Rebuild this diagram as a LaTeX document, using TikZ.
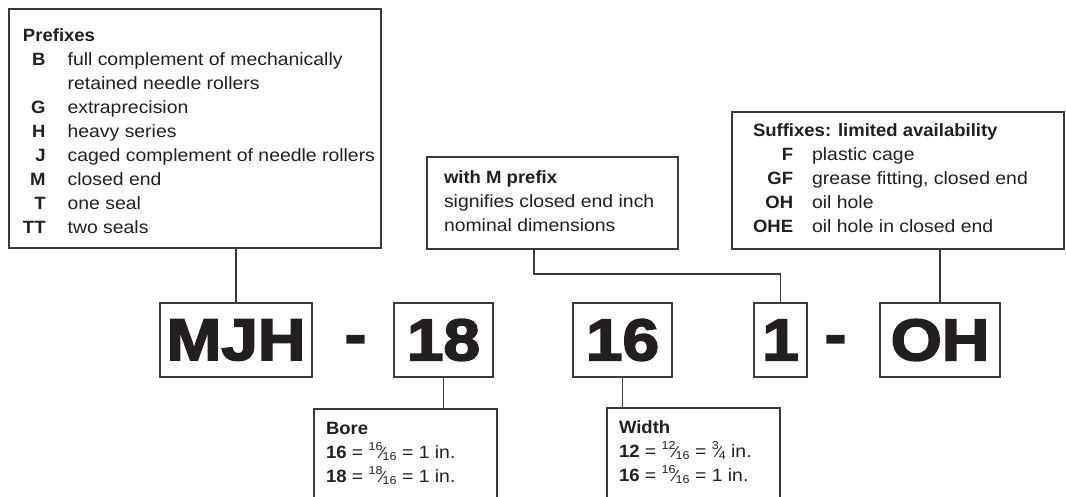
\documentclass[tikz,border=0pt]{standalone}
\usepackage{fontspec}
\setmainfont{Liberation Sans}[FakeStretch=1.09]
\newfontfamily\bfam{Liberation Sans Bold}[FakeStretch=1.04]
\newfontfamily\bigf{Liberation Sans Bold}[FakeStretch=1.12,FakeBold=3]
\newcommand\B[1]{{\bfam #1}}
\newcommand\fr[2]{\raisebox{0.42em}{\fontsize{11.5}{11.5}\selectfont #1}\kern-0.08em{\fontsize{16}{16}\selectfont\char"2044}\kern-0.08em\raisebox{-0.12em}{\fontsize{11.5}{11.5}\selectfont #2}}
\definecolor{linec}{HTML}{3A3A3A}
\definecolor{textc}{HTML}{231F20}
\tikzset{
  box/.style={draw=linec, line width=1.3pt, inner sep=0pt, outer sep=0pt, anchor=north west},
  bigbox/.style={box, minimum height=74pt, font=\bigf\fontsize{58.7}{60}\selectfont, text=textc},
  txt/.style={anchor=base west, inner sep=0pt, outer sep=0pt, text=textc, font=\fontsize{17.8}{24}\selectfont},
  bigtxt/.style={inner sep=0pt, text=textc, font=\bigf\fontsize{58.7}{60}\selectfont},
  conn/.style={draw=linec, line width=1.3pt}
}
\begin{document}
\begin{tikzpicture}[x=1pt,y=-1pt]
\useasboundingbox (0,0) rectangle (1066,496);
\clip (0,0) rectangle (1066,496);
\fill[white] (0,0) rectangle (1066,496);

% text boxes
\node[box, minimum width=372pt, minimum height=239pt] (pre) at (9,9) {};
\node[box, minimum width=251pt, minimum height=92pt] (withm) at (427,157) {};
\node[box, minimum width=332pt, minimum height=137pt] (suff) at (732,112) {};
\node[box, minimum width=183pt, minimum height=111pt] (bore) at (314,409) {};
\node[box, minimum width=173pt, minimum height=112pt] (width) at (607,408) {};

\node[txt] (pretext) at (23,41) {\begin{tabular}[t]{@{}r@{\hspace{22pt}}l@{}}
\multicolumn{2}{@{}l@{}}{\B{Prefixes}}\\
\B{B} & full complement of mechanically\\
 & retained needle rollers\\
\B{G} & extraprecision\\
\B{H} & heavy series\\
\B{J} & caged complement of needle rollers\\
\B{M} & closed end\\
\B{T} & one seal\\
\B{TT} & two seals
\end{tabular}};

\node[txt] (withmtext) at (444,183) {\begin{tabular}[t]{@{}l@{}}
\B{with M prefix}\\
signifies closed end inch\\
nominal dimensions
\end{tabular}};

\node[txt] (sufftext) at (753,136) {\begin{tabular}[t]{@{}r@{\hspace{19pt}}l@{}}
\multicolumn{2}{@{}l@{}}{\B{Suffixes: limited availability}}\\
\B{F} & plastic cage\\
\B{GF} & grease fitting, closed end\\
\B{OH} & oil hole\\
\B{OHE} & oil hole in closed end
\end{tabular}};

\node[txt] (boretext) at (326,434) {\begin{tabular}[t]{@{}l@{}}
\B{Bore}\\
\B{16} = \fr{16}{16} = 1 in.\\
\B{18} = \fr{18}{16} = 1 in.
\end{tabular}};

\node[txt] (widthtext) at (619,433) {\begin{tabular}[t]{@{}l@{}}
\B{Width}\\
\B{12} = \fr{12}{16} = \fr{3}{4} in.\\
\B{16} = \fr{16}{16} = 1 in.
\end{tabular}};

% designation boxes
\node[bigbox, minimum width=152pt] (mjh) at (160,303) {MJH};
\node[bigtxt] (dash1) at (355.5,345) {-};
\node[bigbox, minimum width=99pt] (b18) at (394,303) {18};
\node[bigbox, minimum width=99pt] (b16) at (573,303) {16};
\node[bigbox, minimum width=53pt] (b1) at (754,303) {1};
\node[bigtxt] (dash2) at (835.5,345) {-};
\node[bigbox, minimum width=120pt] (oh) at (880,303) {OH};

% connectors
\coordinate (wmx) at (534,249);
\draw[conn] (mjh.north) -- (mjh.north |- pre.south);
\draw[conn] (wmx) -- ++(0,25) -| (b1.north);
\draw[conn] (oh.north) -- (oh.north |- suff.south);
\draw[conn] (b18.south) -- (b18.south |- bore.north);
\draw[conn] (b16.south) -- (b16.south |- width.north);
\end{tikzpicture}
\end{document}
